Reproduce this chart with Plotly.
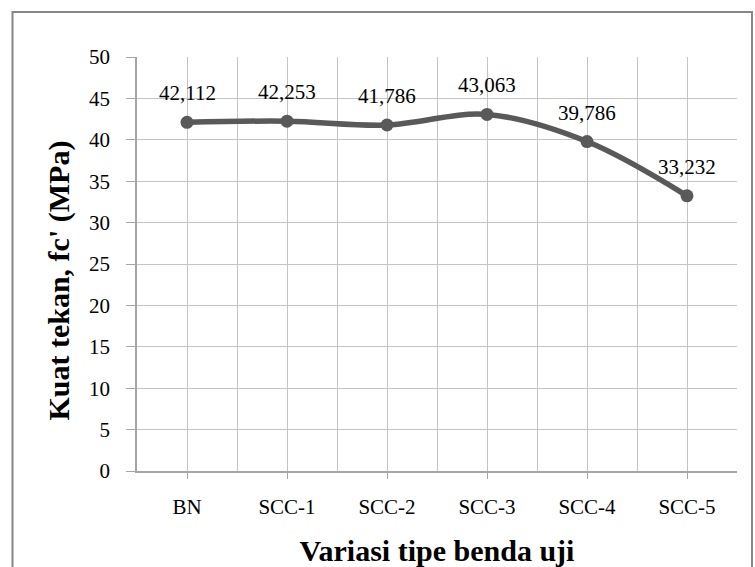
import plotly.graph_objects as go

# Compressive strength per specimen type
categories = ["BN", "SCC-1", "SCC-2", "SCC-3", "SCC-4", "SCC-5"]
strength = [42.112, 42.253, 41.786, 43.063, 39.786, 33.232]
y_ticks = [0, 5, 10, 15, 20, 25, 30, 35, 40, 45, 50]

FONT = "Times New Roman, Liberation Serif, serif"
LINE_GRAY = "#595959"
GRID = "#c4c4c4"
AXIS = "#a6a6a6"

xs = list(range(len(categories)))

fig = go.Figure()
fig.add_trace(go.Scatter(
    x=xs, y=strength, mode="lines+markers",
    line=dict(color=LINE_GRAY, width=5.5, shape="spline", smoothing=1.0),
    marker=dict(color=LINE_GRAY, size=13),
    hoverinfo="skip", showlegend=False,
))

# value labels above each point, decimal comma
for x, v in zip(xs, strength):
    fig.add_annotation(
        x=x, y=v, text=f"{v:.3f}".replace(".", ","),
        showarrow=False, yanchor="middle", yshift=29,
        font=dict(family=FONT, size=21, color="black"),
    )

# vertical axis title, sitting a little below the plot's mid-height
fig.add_annotation(
    xref="paper", yref="paper", x=-0.13, y=0.46,
    text="<b>Kuat tekan, fc' (MPa)</b>", textangle=-90,
    showarrow=False, xanchor="center", yanchor="middle",
    font=dict(family=FONT, size=30, color="black"),
)

# outer chart frame
fig.add_shape(
    type="rect", xref="paper", yref="paper",
    x0=-0.2075, x1=1.025, y0=-0.30, y1=1.1087,
    line=dict(color="#878787", width=2), fillcolor="rgba(0,0,0,0)",
    layer="below",
)

fig.update_layout(
    width=755, height=567,
    margin=dict(l=137, r=18, t=57, b=96),
    paper_bgcolor="white", plot_bgcolor="white",
    font=dict(family=FONT, size=21, color="black"),
    xaxis=dict(
        range=[-0.5, 5.5], automargin=False,
        tickvals=xs, ticktext=categories,
        showgrid=True, gridcolor=GRID, gridwidth=1,
        minor=dict(tickvals=[i - 0.5 for i in range(len(categories) + 1)],
                   showgrid=True, gridcolor=GRID, gridwidth=1),
        showline=True, linecolor=AXIS, linewidth=1.5,
        ticks="outside", ticklen=6, tickcolor=AXIS,
        ticklabelstandoff=10,
        zeroline=False,
        tickfont=dict(family=FONT, size=21),
        title=dict(text="<b>Variasi tipe benda uji</b>", standoff=26,
                   font=dict(family=FONT, size=30)),
    ),
    yaxis=dict(
        range=[0, 50], tickvals=y_ticks, automargin=False,
        showgrid=True, gridcolor=GRID, gridwidth=1,
        showline=True, linecolor=AXIS, linewidth=1.5,
        ticks="outside", ticklen=9, tickcolor=AXIS,
        ticklabelstandoff=12,
        zeroline=False,
        tickfont=dict(family=FONT, size=21),
    ),
)

fig.write_html("out.html")
